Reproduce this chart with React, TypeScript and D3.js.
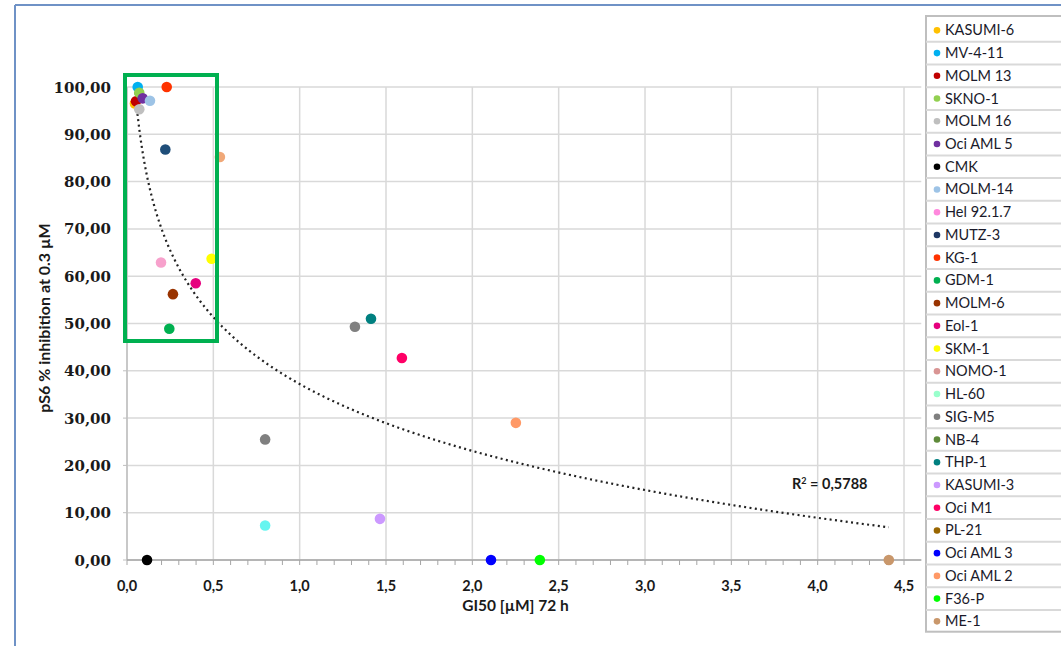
import React from "react";
import * as d3 from "d3";

const seriesNames = [
  "KASUMI-6", "MV-4-11", "MOLM 13", "SKNO-1", "MOLM 16", "Oci AML 5", "CMK", "MOLM-14",
  "Hel 92.1.7", "MUTZ-3", "KG-1", "GDM-1", "MOLM-6", "Eol-1", "SKM-1", "NOMO-1", "HL-60",
  "SIG-M5", "NB-4", "THP-1", "KASUMI-3", "Oci M1", "PL-21", "Oci AML 3", "Oci AML 2", "F36-P", "ME-1",
];
const seriesColors = [
  "#FFC000", "#00B0F0", "#C00000", "#92D050", "#BFBFBF", "#7030A0", "#000000", "#9DC3E6",
  "#F7A1CC", "#1F4E79", "#FF3300", "#00B050", "#993300", "#E6007E", "#FFFF00", "#F0A878", "#66F5F0",
  "#808080", "#5E8A3A", "#008080", "#CC99FF", "#FF0066", "#996600", "#0000FF", "#FF9966", "#00FF00", "#C9976B",
];
const legendColors = [
  "#FFC000", "#00B0F0", "#C00000", "#92D050", "#BFBFBF", "#7030A0", "#000000", "#9DC3E6",
  "#FF88DD", "#1F3864", "#FF3300", "#00B050", "#993300", "#E6007E", "#FFFF00", "#D99594", "#99FFCC",
  "#7F7F7F", "#5E8A3A", "#008080", "#CC99FF", "#FF0066", "#996600", "#0000FF", "#FF9966", "#00FF00", "#C9976B",
];
// GI50 [µM] 72 h per series
const gi50: number[][] = [
  [0.046], [0.062], [0.052], [0.071], [0.071], [0.091], [0.116], [0.133],
  [0.197], [0.222], [0.23], [0.245], [0.266], [0.398], [0.49], [0.538], [0.8],
  [1.32, 0.8], [], [1.413], [1.465], [1.592], [], [2.108], [2.252], [2.391], [4.412],
];
// pS6 % inhibition at 0.3 µM per series
const inhibition: number[][] = [
  [96.5], [100], [97.0], [98.8], [95.3], [97.6], [0], [97.1],
  [62.9], [86.8], [100], [48.9], [56.2], [58.5], [63.7], [85.2], [7.3],
  [49.3, 25.5], [], [51.0], [8.7], [42.7], [], [0], [29.0], [0], [0],
];

const xTicks = [0, 0.5, 1.0, 1.5, 2.0, 2.5, 3.0, 3.5, 4.0, 4.5];
const yTicks = [0, 10, 20, 30, 40, 50, 60, 70, 80, 90, 100];
const trendA = -20.4; // logarithmic trendline y = a ln(x) + b
const trendB = 37.2;
const rSquaredText = "0,5788";

const fmtComma = (v: number, d: number) => v.toFixed(d).replace(".", ",");

export default function App() {
  const W = 1061, H = 646;
  const x = d3.scaleLinear().domain([0, 4.6]).range([127, 127 + 4.6 * 172.67]);
  const y = d3.scaleLinear().domain([0, 100]).range([560, 87]);
  const [x0, x1] = x.range();
  const minorTicks = d3.range(0, 46).map((i) => i / 10);

  const points: { x: number; y: number; c: string }[] = [];
  seriesNames.forEach((_, i) => {
    (gi50[i] || []).forEach((gx, j) => {
      points.push({ x: gx, y: inhibition[i][j], c: seriesColors[i] });
    });
  });
  const allX = points.map((p) => p.x);
  const tMin = d3.min(allX) as number, tMax = d3.max(allX) as number;
  const trendPts = d3.range(0, 301).map((k) => {
    const tx = Math.exp(Math.log(tMin) + (Math.log(tMax) - Math.log(tMin)) * (k / 300));
    return [x(tx), y(trendA * Math.log(tx) + trendB)] as [number, number];
  });
  const line = d3.line();

  const legTop = 16, rowH = 22.73, legX = 926;
  const font = "Lato, 'Open Sans', sans-serif";

  return (
    <svg width={W} height={H} style={{ position: "absolute", left: 0, top: 0 }} fontFamily={font}>
      <rect x={0} y={0} width={W} height={H} fill="#fff" />
      {/* outer frame */}
      <line x1={15} y1={5} x2={W} y2={5} stroke="#6F92C6" strokeWidth={2} />
      <line x1={15} y1={5} x2={15} y2={H} stroke="#6F92C6" strokeWidth={2} />

      {/* gridlines */}
      {yTicks.map((t) => (
        <line key={"gy" + t} x1={x0} x2={x1} y1={y(t)} y2={y(t)} stroke="#D9D9D9" strokeWidth={1.5} />
      ))}
      {xTicks.map((t) => (
        <line key={"gx" + t} x1={x(t)} x2={x(t)} y1={y(100)} y2={y(0)} stroke="#D9D9D9" strokeWidth={1.5} />
      ))}
      {/* axes */}
      <line x1={x0} x2={x0} y1={y(100)} y2={y(0)} stroke="#BFBFBF" strokeWidth={1.5} />
      <line x1={x0} x2={x1} y1={y(0)} y2={y(0)} stroke="#A6A6A6" strokeWidth={1.5} />
      {minorTicks.map((t) => (
        <line key={"mt" + t} x1={x(t)} x2={x(t)} y1={y(0)} y2={y(0) + 5} stroke="#A6A6A6" strokeWidth={1} />
      ))}
      {yTicks.map((t) => (
        <line key={"yt" + t} x1={x0 - 4} x2={x0} y1={y(t)} y2={y(t)} stroke="#BFBFBF" strokeWidth={1} />
      ))}

      {/* tick labels */}
      {yTicks.map((t) => (
        <text key={"yl" + t} x={111} y={y(t) + 5.5} textAnchor="end" fontFamily="'DejaVu Serif', serif"
          fontWeight="bold" fontSize={15} fill="#1a1a1a">
          {fmtComma(t, 2)}
        </text>
      ))}
      {xTicks.map((t) => (
        <text key={"xl" + t} x={x(t)} y={591} textAnchor="middle" fontWeight="bold" fontSize={14.5} fill="#1a1a1a">
          {fmtComma(t, 1)}
        </text>
      ))}
      <text x={(x(0) + x(4.5)) / 2} y={611} textAnchor="middle" fontWeight="bold" fontSize={15.5} fill="#1a1a1a">
        GI50 [µM] 72 h
      </text>
      <text transform={`translate(50, 318) rotate(-90)`} textAnchor="middle" fontWeight="bold" fontSize={16} fill="#1a1a1a">
        pS6 % inhibition at 0.3  µM
      </text>

      {/* trendline */}
      <path d={line(trendPts) || ""} fill="none" stroke="#222" strokeWidth={2.2} strokeDasharray="2 3.4" />

      {/* points */}
      {points.map((p, i) => (
        <circle key={"p" + i} cx={x(p.x)} cy={y(p.y)} r={5.3} fill={p.c} />
      ))}

      <text x={792} y={489} fontWeight="bold" fontSize={14.5} fill="#1a1a1a">
        R<tspan dy={-5} fontSize={9}>2</tspan><tspan dy={5}> = {rSquaredText}</tspan>
      </text>

      {/* highlight rectangle */}
      <rect x={125} y={75} width={92} height={266} fill="none" stroke="#00B050" strokeWidth={4} />

      {/* legend */}
      <rect x={legX} y={legTop} width={W - legX + 5} height={rowH * seriesNames.length + 2} fill="#fff" stroke="#BFBFBF" strokeWidth={2} />
      {seriesNames.map((n, i) => {
        const cy = legTop + 3 + rowH * i + rowH / 2;
        return (
          <g key={"lg" + i}>
            {i > 0 && (
              <line x1={legX} x2={W} y1={legTop + 3 + rowH * i} y2={legTop + 3 + rowH * i} stroke="#D9D9D9" strokeWidth={2} />
            )}
            <circle cx={937} cy={cy} r={3.3} fill={legendColors[i]} />
            <text x={945} y={cy + 5} fontSize={14.5} fill="#1a1a2a">{n}</text>
          </g>
        );
      })}
    </svg>
  );
}
